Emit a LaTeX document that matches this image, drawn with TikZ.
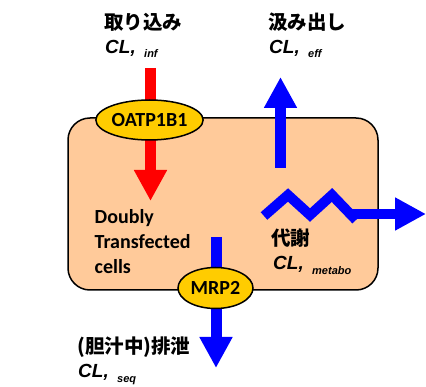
\documentclass[tikz,border=0pt]{standalone}
\usepackage{fontspec}
\setmainfont{Carlito}
\newfontfamily\cjk{Noto Sans CJK JP}
\newfontfamily\arialf{Liberation Sans}
\usetikzlibrary{arrows.meta,shapes.geometric}
\definecolor{cellfill}{HTML}{FFCA9A}
\definecolor{gold}{HTML}{FFCC00}
\definecolor{rred}{HTML}{FF0000}
\definecolor{bblue}{HTML}{0000FF}
\tikzset{
  jp/.style={font=\cjk\bfseries\fontsize{19.5}{19.5}\selectfont, inner sep=0pt, anchor=base west},
  clx/.style={font=\arialf\bfseries\itshape\fontsize{19}{19}\selectfont, inner sep=0pt, anchor=base west},
  subx/.style={font=\arialf\bfseries\itshape\fontsize{11}{11}\selectfont, inner sep=0pt, anchor=base west, xshift=8pt, yshift=-4.5pt},
  cellt/.style={font=\bfseries\fontsize{20}{20}\selectfont, inner sep=0pt, anchor=base west},
  transporter/.style={ellipse, draw=black, line width=1.5pt, fill=gold, font=\bfseries\fontsize{20}{20}\selectfont, inner sep=0pt},
  fat/.style={line width=11pt},
  head/.style={-{Triangle[length=31pt,width=31pt]}}
}
\begin{document}
\begin{tikzpicture}[x=1pt,y=-1pt]
\useasboundingbox (0,0) rectangle (426,387);
% cell
\draw[fill=cellfill, line width=1.5pt, rounded corners=22pt] (68,118) rectangle (378,290);
\node (cell) at (223,204) {};
% coordinates
\coordinate (rs) at (150.5,68);
\coordinate (re) at (150.5,201);
\coordinate (us) at (280.5,168);
\coordinate (ue) at (280.5,77);
\coordinate (z0) at (264,216);
\coordinate (z1) at (288,195);
\coordinate (z2) at (310,215);
\coordinate (z3) at (332,195);
\coordinate (z4) at (356,220);
\coordinate (hs) at (350,214);
\coordinate (he) at (426,214);
\coordinate (ds) at (216,237);
\coordinate (de) at (216,368);
% arrows
\draw[fat, rred, head] (rs) -- (re);
\draw[fat, bblue, head] (us) -- (ue);
\draw[line width=10pt, bblue] (z0) -- (z1) -- (z2) -- (z3) -- (z4);
\draw[line width=10pt, bblue, head] (hs) -- (he);
\draw[fat, bblue, head] (ds) -- (de);
% transporters
\node[transporter, minimum width=101pt, minimum height=40pt] (oatp) at (149.5,120) {OATP1B1};
\node[transporter, minimum width=75pt, minimum height=41pt] (mrp) at (215.5,288) {MRP2};
% cell text
\node[cellt] (d1) at (94.5,224) {Doubly};
\node[cellt] (d2) at (94.5,249) {Transfected};
\node[cellt] (d3) at (94.5,274) {cells};
% labels
\node[jp] (j1) at (104,30) {取り込み};
\node[clx] (c1) at (105,53.5) {CL,};
\node[subx] (s1) at (c1.base east) {inf};
\node[jp] (j2) at (268,30) {汲み出し};
\node[clx] (c2) at (269,53.5) {CL,};
\node[subx] (s2) at (c2.base east) {eff};
\node[jp] (j3) at (271,246) {代謝};
\node[clx] (c3) at (273,270) {CL,};
\node[subx] (s3) at (c3.base east) {metabo};
\node[jp] (j4) at (77,354) {(胆汁中)排泄};
\node[clx] (c4) at (78,378) {CL,};
\node[subx] (s4) at (c4.base east) {seq};
\end{tikzpicture}
\end{document}
